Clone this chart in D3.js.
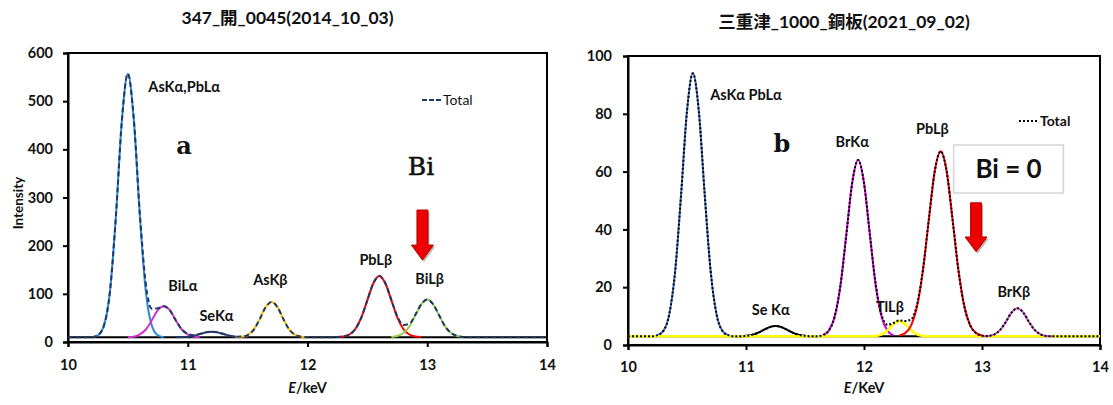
<!DOCTYPE html>
<html>
<head>
<meta charset="utf-8">
<script src="https://cdn.jsdelivr.net/npm/d3@7"></script>
<style>
	body { margin: 0; background: #fff; }
	svg { display: block; }
	text { font-family: Lato, 'Noto Sans CJK JP', sans-serif; font-weight: bold; fill: #111; }
</style>
</head>
<body>
<div class="main"></div>
<script>
//step between read values, keV
const STEP = 0.05;

//panel a: 347_開_0045, intensities above the background, read every 0.05 keV
const titleA = '347_開_0045(2014_10_03)';
const backgroundA = 10;
const peakNamesA = ['AsKα,PbLα', 'BiLα', 'SeKα', 'AsKβ', 'PbLβ', 'BiLβ'];
const peakStartA = [10.2, 10.5, 10.9, 11.4, 12.25, 12.7];
const peakValuesA = [
	[0, 4, 24, 94, 251, 450, 547, 450, 251, 94, 24, 4, 0],
	[0, 1, 6, 16, 35, 56, 64, 56, 35, 16, 6, 1, 0],
	[0, 0.3, 1, 3, 6.5, 10, 11.5, 10, 6.5, 3, 1, 0.3, 0],
	[0, 1, 4.5, 15, 37, 62, 73, 62, 37, 15, 4.5, 1, 0],
	[0.3, 1.4, 5.6, 17, 41, 77, 112, 127, 112, 77, 41, 17, 5.6, 1.4, 0.3],
	[0.5, 2.4, 8.5, 22, 45, 68, 78, 68, 45, 22, 8.5, 2.4, 0.5]
];
const yTicksA = [0, 100, 200, 300, 400, 500, 600];
//label anchors in data units [E, intensity]
const labelTextA = ['AsKα,PbLα', 'BiLα', 'SeKα', 'AsKβ', 'PbLβ', 'BiLβ'];
const labelPosA = [[10.97, 519], [10.96, 106], [11.24, 44], [11.69, 118], [12.57, 160], [13.02, 120]];
const arrowA = [12.96, 274, 170];

//panel b: 三重津_1000_銅板
const titleB = '三重津_1000_銅板(2021_09_02)';
const backgroundB = 3;
const peakNamesB = ['AsKα PbLα', 'Se Kα', 'BrKα', 'TlLβ', 'PbLβ', 'BrKβ'];
const peakStartB = [10.25, 10.9, 11.65, 12.0, 12.3, 13.0];
const peakValuesB = [
	[0.4, 1.9, 7.7, 22.7, 49.1, 78, 91, 78, 49.1, 22.7, 7.7, 1.9, 0.4],
	[0, 0.04, 0.16, 0.5, 1.2, 2.2, 3.2, 3.6, 3.2, 2.2, 1.2, 0.5, 0.16, 0.04, 0],
	[0.4, 1.9, 6.6, 17.5, 35.1, 53.1, 61, 53.1, 35.1, 17.5, 6.6, 1.9, 0.4],
	[0, 0.02, 0.15, 0.7, 2.1, 4.2, 5.2, 4.2, 2.1, 0.7, 0.15, 0.02, 0],
	[0.3, 1.1, 3.8, 10.4, 23, 40.6, 57.2, 64, 57.2, 40.6, 23, 10.4, 3.8, 1.1, 0.3],
	[0, 0.13, 0.6, 2.05, 4.85, 8.2, 9.7, 8.2, 4.85, 2.05, 0.6, 0.13, 0]
];
const yTicksB = [0, 20, 40, 60, 80, 100];
const labelTextB = ['AsKα PbLα', 'BrKα', 'PbLβ', 'Se Kα', 'TlLβ', 'BrKβ'];
const labelPosB = [[11.0, 84.8], [11.9, 68.5], [12.58, 73], [11.21, 10.4], [12.22, 11.5], [13.27, 16.6]];
const arrowB = [12.95, 49.2, 32.3];
const boxB = [12.76, 13.69, 69.2, 52.6];

const xTicks = [10, 11, 12, 13, 14];

//styles
const colorsA = ['#2b8ad6', '#cc33cc', '#1f3864', '#ffc000', '#ff0000', '#92d050'];
const colorsB = ['#4472c4', '#000000', '#cc00cc', '#ffff00', '#ff0000', '#cc55cc'];

const energyGrid = d3.range(81).map(i => +(10 + i * STEP).toFixed(2));

const svg = d3.select('.main')
	.append('svg')
	.attr('width', 1113)
	.attr('height', 405);

function valueAt(start, values, E){
	const i = Math.round((E - start) / STEP);
	return (i >= 0 && i < values.length) ? values[i] : 0;
}

function drawPanel(opt){
	const x = d3.scaleLinear().domain([10, 14]).range([opt.left, opt.right]);
	const y = d3.scaleLinear().domain([0, opt.yMax]).range([opt.bottom, opt.top]);
	const g = svg.append('g');
	const line = d3.line()
		.x(d => x(d[0]))
		.y(d => y(d[1]))
		.curve(d3.curveMonotoneX);

	//frame
	g.append('rect')
		.attr('x', opt.left)
		.attr('y', opt.top)
		.attr('width', opt.right - opt.left)
		.attr('height', opt.bottom - opt.top)
		.style('fill', 'none')
		.style('stroke', '#000')
		.style('stroke-width', '2px');

	const yAxis = g.append('g')
		.attr('transform', 'translate(' + opt.left + ',0)')
		.call(d3.axisLeft(y).tickValues(opt.yTicks).tickSize(5).tickPadding(opt.yPad));
	const xAxis = g.append('g')
		.attr('transform', 'translate(0,' + opt.bottom + ')')
		.call(d3.axisBottom(x).tickValues(xTicks).tickFormat(d3.format('d')).tickSize(5).tickPadding(opt.xPad));
	[yAxis, xAxis].forEach(a => {
		a.selectAll('path').style('stroke-width', '2px');
		a.selectAll('line').style('stroke-width', '2px');
		a.selectAll('text')
			.style('font-size', '14.5px')
			.style('font-family', 'Lato, sans-serif')
			.style('font-weight', 'bold')
			.style('fill', '#111');
	});

	//background line
	g.append('path')
		.datum([[10, opt.bg], [14, opt.bg]])
		.attr('d', line)
		.style('fill', 'none')
		.style('stroke', '#000')
		.style('stroke-width', '2px');

	//components
	opt.values.forEach((vals, k) => {
		let pts;
		if(opt.fullRange === k){
			pts = energyGrid.map(E => [E, opt.bg + valueAt(opt.starts[k], vals, E)]);
		} else {
			pts = vals.map((v, i) => [opt.starts[k] + i * STEP, opt.bg + v]);
		}
		g.append('path')
			.datum(pts)
			.attr('d', line)
			.style('fill', 'none')
			.style('stroke', opt.colors[k])
			.style('stroke-width', opt.fullRange === k ? '2.5px' : '2px');
	});

	//total = background + sum of components
	const total = energyGrid.map(E => [E, opt.bg + d3.sum(opt.values, (vals, k) => valueAt(opt.starts[k], vals, E))]);
	g.append('path')
		.datum(total)
		.attr('d', line)
		.style('fill', 'none')
		.style('stroke', opt.totalColor)
		.style('stroke-width', '2px')
		.style('stroke-dasharray', opt.totalDash);

	//peak labels
	opt.labelText.forEach((t, i) => {
		g.append('text')
			.attr('x', x(opt.labelPos[i][0]))
			.attr('y', y(opt.labelPos[i][1]))
			.attr('text-anchor', 'middle')
			.style('font-size', '14.5px')
			.text(t);
	});

	//red arrow
	const ax = x(opt.arrow[0]);
	const aTop = y(opt.arrow[1]);
	const aTip = y(opt.arrow[2]);
	const headH = (aTip - aTop) * 0.3;
	const arrowPath = d3.path();
	arrowPath.moveTo(ax - 5.5, aTop);
	arrowPath.lineTo(ax + 5.5, aTop);
	arrowPath.lineTo(ax + 5.5, aTip - headH);
	arrowPath.lineTo(ax + 11, aTip - headH);
	arrowPath.lineTo(ax, aTip);
	arrowPath.lineTo(ax - 11, aTip - headH);
	arrowPath.lineTo(ax - 5.5, aTip - headH);
	arrowPath.closePath();
	g.append('path')
		.attr('d', arrowPath.toString())
		.attr('transform', 'translate(1.5,2)')
		.style('fill', 'rgba(80,40,40,0.35)');
	g.append('path')
		.attr('d', arrowPath.toString())
		.style('fill', '#ee0000')
		.style('stroke', '#b00000')
		.style('stroke-width', '1px');

	//titles
	svg.append('text')
		.attr('x', (opt.left + opt.right) / 2 - 20)
		.attr('y', opt.titleY)
		.attr('text-anchor', 'middle')
		.style('font-size', '17.5px')
		.text(opt.title);

	const xl = svg.append('text')
		.attr('x', (opt.left + opt.right) / 2)
		.attr('y', 393)
		.attr('text-anchor', 'middle')
		.style('font-size', '14.5px');
	xl.append('tspan').style('font-style', 'italic').text('E');
	xl.append('tspan').text(opt.unit);

	return {x: x, y: y, g: g};
}

const pa = drawPanel({
	left: 68, right: 547, top: 53, bottom: 342,
	yMax: 600, yTicks: yTicksA, yPad: 10, xPad: 13,
	bg: backgroundA, starts: peakStartA, values: peakValuesA, colors: colorsA,
	fullRange: -1, totalColor: '#1f3864', totalDash: '5,3',
	labelText: labelTextA, labelPos: labelPosA, arrow: arrowA,
	title: titleA, titleY: 24, unit: '/keV'
});

const pb = drawPanel({
	left: 628, right: 1100, top: 56, bottom: 345,
	yMax: 100, yTicks: yTicksB, yPad: 11, xPad: 12,
	bg: backgroundB, starts: peakStartB, values: peakValuesB, colors: colorsB,
	fullRange: 3, totalColor: '#000', totalDash: '2,2',
	labelText: labelTextB, labelPos: labelPosB, arrow: arrowB,
	title: titleB, titleY: 28, unit: '/KeV'
});

//y axis title, panel a only
svg.append('text')
	.attr('transform', 'translate(23,203) rotate(-90)')
	.attr('text-anchor', 'middle')
	.style('font-size', '13.5px')
	.text('Intensity');

//panel letters
pa.g.append('text')
	.attr('x', 184).attr('y', 154)
	.attr('text-anchor', 'middle')
	.style('font-family', "'DejaVu Serif', serif")
	.style('font-size', '24px')
	.text('a');
pa.g.append('text')
	.attr('x', 421).attr('y', 175)
	.attr('text-anchor', 'middle')
	.style('font-family', "'DejaVu Serif', serif")
	.style('font-weight', 'normal')
	.style('stroke', '#111')
	.style('stroke-width', '0.6px')
	.style('font-size', '25px')
	.text('Bi');
pb.g.append('text')
	.attr('x', 782).attr('y', 152)
	.attr('text-anchor', 'middle')
	.style('font-family', "'DejaVu Serif', serif")
	.style('font-size', '24px')
	.text('b');

//legends
pa.g.append('line')
	.attr('x1', 422).attr('x2', 441)
	.attr('y1', 100).attr('y2', 100)
	.style('stroke', '#1f3864')
	.style('stroke-width', '2px')
	.style('stroke-dasharray', '5,2');
pa.g.append('text')
	.attr('x', 443).attr('y', 105)
	.style('font-size', '14px')
	.style('font-weight', 'normal')
	.text('Total');
pb.g.append('line')
	.attr('x1', 1019).attr('x2', 1038)
	.attr('y1', 121).attr('y2', 121)
	.style('stroke', '#000')
	.style('stroke-width', '2px')
	.style('stroke-dasharray', '2,2');
pb.g.append('text')
	.attr('x', 1040).attr('y', 126)
	.style('font-size', '14px')
	.text('Total');

//Bi = 0 box
pb.g.append('rect')
	.attr('x', pb.x(boxB[0]))
	.attr('y', pb.y(boxB[2]))
	.attr('width', pb.x(boxB[1]) - pb.x(boxB[0]))
	.attr('height', pb.y(boxB[3]) - pb.y(boxB[2]))
	.style('fill', '#fff')
	.style('stroke', '#d4d4d4')
	.style('stroke-width', '1.5px');
pb.g.append('text')
	.attr('x', (pb.x(boxB[0]) + pb.x(boxB[1])) / 2)
	.attr('y', (pb.y(boxB[2]) + pb.y(boxB[3])) / 2 + 9)
	.attr('text-anchor', 'middle')
	.style('font-size', '26px')
	.text('Bi = 0');
</script>
</body>
</html>
